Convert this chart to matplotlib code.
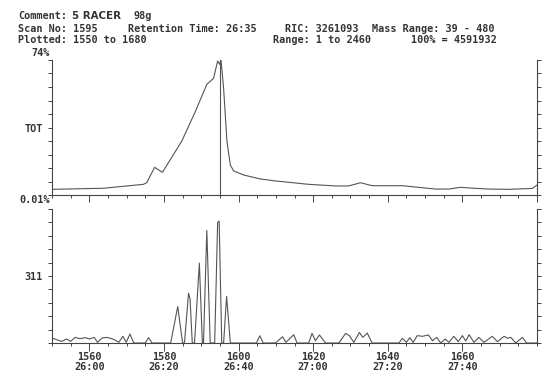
import matplotlib
matplotlib.use("Agg")
import matplotlib.pyplot as plt
from matplotlib.ticker import MultipleLocator

# TOT trace (upper panel), % of full scale
tot_scan = [1550, 1550, 1563.8, 1574.5, 1575.4, 1577.5, 1579.6, 1584.8, 1588.4,
            1591.5, 1593.3, 1594.4, 1594.9, 1595.3, 1596.0, 1596.9, 1597.8,
            1598.7, 1601.4, 1605.8, 1609.9, 1618.8, 1626.0, 1629.5, 1632.7,
            1635.8, 1643.9, 1652.8, 1656.4, 1659.5, 1663.6, 1667.2, 1672.5,
            1678.8, 1680]
tot_val = [0, 4.2, 5.0, 7.9, 9.1, 20.5, 16.8, 40.0, 61.7,
           82.0, 86.4, 99.3, 96.8, 100, 79.0, 39.5, 22.2,
           17.8, 14.8, 11.9, 10.4, 7.9, 6.7, 6.7, 9.1,
           6.9, 6.9, 4.4, 4.4, 5.7, 4.9, 4.4, 4.2,
           4.9, 7.4]

# ion trace (lower panel), % of 622 counts
ion_scan = [1550, 1552.6, 1553.9, 1555.0, 1556.2, 1557.5, 1558.9, 1560.0, 1561.3,
            1562.2, 1563.4, 1564.7, 1566.1, 1567.0, 1567.9, 1569.0, 1569.9, 1570.9,
            1571.9, 1575.0, 1575.9, 1576.8, 1581.8,
            1583.7, 1585.0, 1585.5, 1586.6, 1587.0, 1587.6, 1588.2, 1589.5, 1590.3,
            1590.6, 1591.5, 1592.4, 1593.6, 1594.4, 1594.8, 1595.5, 1596.0, 1596.8,
            1597.8, 1604.8, 1605.7, 1606.6,
            1609.9, 1611.8, 1612.7, 1614.8, 1615.7, 1618.8, 1619.7, 1620.6, 1621.7,
            1623.3, 1626.9, 1628.7, 1629.7, 1630.9, 1632.4, 1633.3, 1634.5, 1635.8,
            1643.0, 1643.9, 1645.0, 1645.9, 1646.8, 1647.9, 1649.3, 1650.9, 1652.0,
            1653.1, 1654.2, 1655.4, 1656.4, 1657.7, 1658.9, 1660.0, 1660.9, 1661.8,
            1663.1, 1664.4, 1665.8, 1668.0, 1669.4, 1671.2, 1672.1, 1673.0, 1674.3,
            1676.1, 1677.2, 1680]
ion_pct = [3.7, 1.2, 3.0, 1.2, 4.2, 3.2, 4.0, 3.0, 4.2,
           0.5, 3.7, 4.2, 3.2, 2.0, 0.5, 5.0, 0.5, 6.7,
           0, 0, 4.0, 0, 0,
           27.2, 0, 0, 37.2, 33.0, 0, 0, 59.6, 0,
           0, 84.0, 0, 0, 90.0, 91.0, 0, 0, 34.7,
           0, 0, 5.4, 0,
           0, 4.7, 0.5, 6.2, 0, 0, 7.2, 1.7, 6.0,
           0, 0, 7.2, 5.5, 0.5, 7.9, 4.2, 7.4, 0,
           0, 3.5, 0.5, 4.0, 0.5, 5.5, 5.0, 6.0, 1.7,
           4.2, 0, 3.0, 0.5, 5.0, 1.0, 5.5, 1.5, 6.2,
           0.5, 4.2, 0.5, 5.0, 1.0, 5.0, 3.5, 4.2, 0,
           4.2, 0, 0]
ion_max = 622
ion_val = [p * ion_max / 100 for p in ion_pct]

scan_no = 1595
xticks = [1560, 1580, 1600, 1620, 1640, 1660]
xtimes = ["26:00", "26:20", "26:40", "27:00", "27:20", "27:40"]

W, H = 550, 388
font = dict(family="DejaVu Sans Mono", size=7.3, weight="bold", color="#333333")
line_c = "#555555"
axis_c = "#444444"

fig = plt.figure(figsize=(W / 100, H / 100), dpi=100)
fig.patch.set_facecolor("white")


def box(l, t, r, b):
    return [l / W, 1 - b / H, (r - l) / W, (b - t) / H]


def ftext(x, y, s, ha="left", **kw):
    f = dict(font)
    f.update(kw)
    fig.text(x / W, 1 - y / H, s, ha=ha, va="center", **f)


ax1 = fig.add_axes(box(52, 60, 537, 195))
ax2 = fig.add_axes(box(52, 209, 537, 343))

for ax in (ax1, ax2):
    ax.set_xlim(1550, 1680)
    ax.spines["top"].set_visible(False)
    for s in ("left", "right", "bottom"):
        ax.spines[s].set_color(axis_c)
        ax.spines[s].set_linewidth(0.8)
    ax.tick_params(axis="y", which="both", direction="out", length=3, width=0.7,
                   color=axis_c, left=True, right=True, labelright=False)
    ax.tick_params(axis="x", which="major", direction="out", length=5, width=0.7,
                   color=axis_c)
    ax.tick_params(axis="x", which="minor", direction="out", length=2.5, width=0.7,
                   color=axis_c)
    ax.xaxis.set_major_locator(MultipleLocator(20))
    ax.xaxis.set_minor_locator(MultipleLocator(5))

# upper panel
ax1.plot(tot_scan, tot_val, color=line_c, lw=0.8)
ax1.axvline(scan_no, color=line_c, lw=0.8)
ax1.set_ylim(0, 100)
ax1.set_yticks([50])
ax1.set_yticks([i * 10 for i in range(11)], minor=True)
ax1.set_yticklabels(["TOT"], **font)
ax1.set_xticklabels([])

# lower panel
ax2.plot(ion_scan, ion_val, color=line_c, lw=0.8)
ax2.set_ylim(0, ion_max)
ax2.set_yticks([ion_max / 2])
ax2.set_yticks([ion_max * i / 10 for i in range(11)], minor=True)
ax2.set_yticklabels(["311"], **font)
ax2.set_xticks(xticks)
ax2.set_xticklabels([f"{s}\n{t}" for s, t in zip(xticks, xtimes)],
                    linespacing=1.0, **font)
ax2.tick_params(axis="x", which="major", length=6, pad=0.5)

# header
ftext(18, 16, "Comment:")
ftext(72, 16, "5 RACER", family="DejaVu Sans", size=7.4)
ftext(134, 16, "98g")
ftext(18, 29, "Scan No: 1595")
ftext(128, 29, "Retention Time: 26:35")
ftext(285, 29, "RIC: 3261093")
ftext(372, 29, "Mass Range: 39 - 480")
ftext(18, 40, "Plotted: 1550 to 1680")
ftext(273, 40, "Range: 1 to 2460")
ftext(411, 40, "100% = 4591932")
ftext(50, 53, "74%", ha="right")
ftext(50, 200, "0.01%", ha="right")

fig.savefig("out.png", dpi=100)
